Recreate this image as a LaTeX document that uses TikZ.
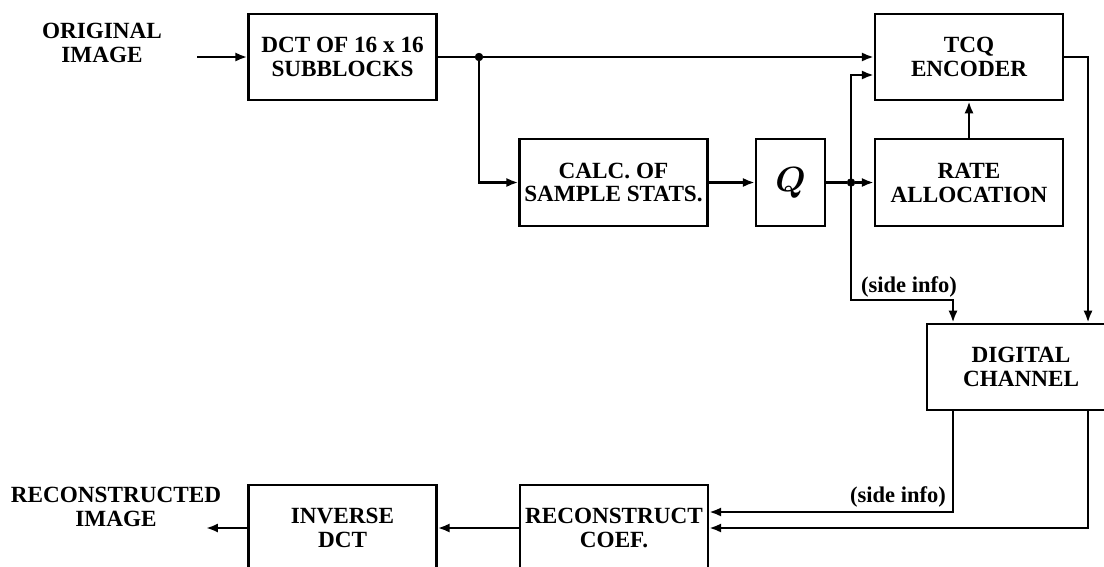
\documentclass[tikz,border=0pt]{standalone}
\usepackage{amsmath}
\usepackage{amssymb}
\usepackage{fontspec}
\setmainfont{Liberation Serif}
\usepackage{tikz}
\usetikzlibrary{arrows.meta,positioning,calc}
\tikzset{
    blk/.style={draw,rectangle,line width=1.6pt,inner sep=1pt,minimum height=2.16cm,minimum width=4.7cm,align=center,font=\fontsize{16.5}{17}\selectfont\bfseries},
    qblk/.style={blk,minimum width=1.725cm,font=\fontsize{25}{27}\selectfont\boldmath},
    txt/.style={align=center,inner sep=0pt,font=\fontsize{16.5}{17}\selectfont\bfseries},
    info/.style={inner sep=0pt,font=\fontsize{16}{16}\selectfont\bfseries},
    line/.style={-,line width=1.8pt},
    arr/.style={line,-{Latex[length=8.5pt,width=6.5pt]}},
    dot/.style = {draw,fill,circle,inner sep=0pt,outer sep=0pt,minimum size=5.5pt},
}
\begin{document}
\begin{tikzpicture}[x=0.025cm,y=-0.025cm]
    \clip (0,0) rectangle (1104,566);
    % encoder side
    \node[txt] (orig) at (102,43) {ORIGINAL\\IMAGE};
    \node[blk] (dct) at (342.5,57) {DCT OF 16 x 16\\SUBBLOCKS};
    \node[blk] (tcq) at (969,57) {TCQ\\ENCODER};
    \node[blk] (calc) at (613.5,182.5) {CALC. OF\\SAMPLE STATS.};
    \node[qblk] (q) at (790.5,182.5) {$Q$};
    \node[blk] (rate) at (969,182.5) {RATE\\ALLOCATION};
    \node[blk] (chan) at (1021,367) {DIGITAL\\CHANNEL};
    % decoder side
    \node[blk] (inv) at (342.5,528) {INVERSE\\DCT};
    \node[blk] (rec) at (614,528) {RECONSTRUCT\\COEF.};
    \node[txt] (recimg) at (116,507) {RECONSTRUCTED\\IMAGE};
    % branch points and bends
    \node[dot] (ja) at (479,57) {};
    \node[dot] (jb) at (851,182.5) {};
    \coordinate (src) at (197,57);
    \coordinate (sink) at (206,528);
    \coordinate (sa) at (851,75);
    \coordinate (sb) at (851,300);
    \coordinate (sc) at (953,300);
    \coordinate (ta) at (1088,57);
    \coordinate (tb) at (953,512);
    \coordinate (tc) at (1088,528);

    \draw[arr] (src) -- (dct);
    \draw[line] (dct) -- (ja);
    \draw[arr] (ja) -- (tcq);
    \draw[arr] (ja) |- (calc);
    \draw[arr] (calc) -- (q);
    \draw[line] (q) -- (jb);
    \draw[arr] (jb) -- (rate);
    \draw[arr] (jb) -- (sa) -- (tcq.west |- sa);
    \draw[arr] (rate) -- (tcq);
    \draw[arr] (jb) -- (sb) -- (sc) -- (sc |- chan.north);
    \node[info] (infoa) at (909,287) {(side info)};
    \draw[arr] (tcq.east |- ta) -- (ta) -- (ta |- chan.north);

    \draw[arr] (tb |- chan.south) -- (tb) -- (rec.east |- tb);
    \node[info] (infob) at (898,497) {(side info)};
    \draw[arr] (tc |- chan.south) -- (tc) -- (rec.east);
    \draw[arr] (rec) -- (inv);
    \draw[arr] (inv) -- (sink);
\end{tikzpicture}
\end{document}
